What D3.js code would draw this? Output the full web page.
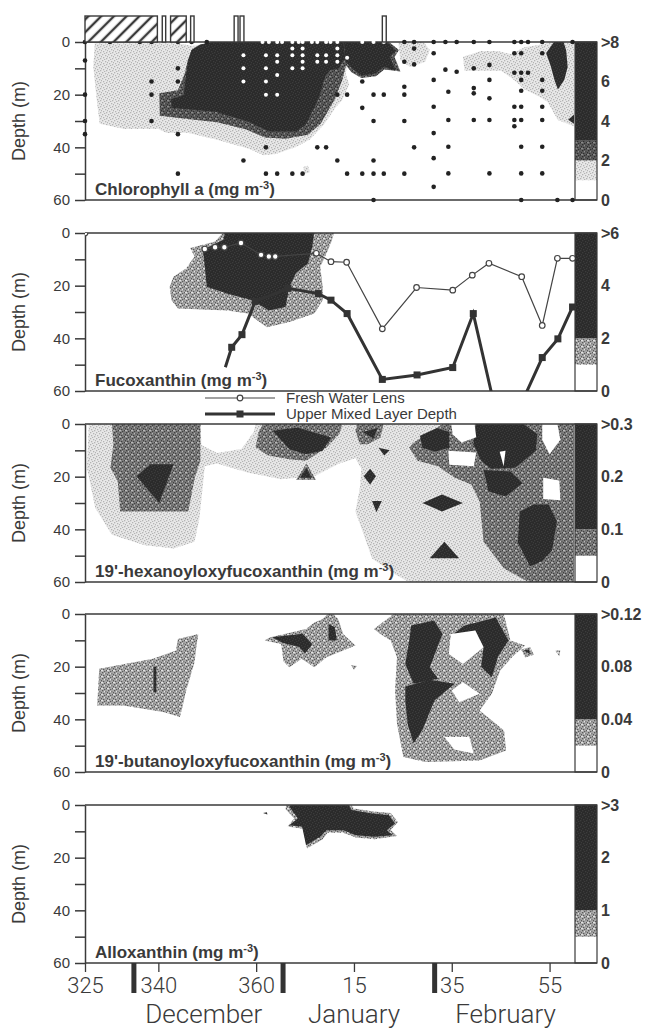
<!DOCTYPE html>
<html>
<head>
<meta charset="utf-8">
<script src="https://cdn.jsdelivr.net/npm/d3@7"></script>
<style>
  body { margin: 0; background: #fff; }
  svg { display: block; }
</style>
</head>
<body>
<svg id="chart"></svg>
<script>
// ---------- data (day of year, depth in m) ----------
const xTickDays = [325, 340, 360, 380, 400, 420];
const monthEdges = [335, 365.5, 396.5];
const monthNames = ['December', 'January', 'February'];
const monthMidDays = [349.3, 380, 411];
const depthTicks = [0, 10, 20, 30, 40, 50, 60];

// boxes above the chlorophyll panel: [start, end, hatched]
const coverBars = [
  [325, 339.8, true], [340.8, 341.5, false], [342.5, 345.7, true], [346.6, 347.3, false],
  [355.5, 356.3, false], [356.7, 357.5, false], [385.8, 386.6, false]
];

// chlorophyll sampling stations: [day, depths]
const chlStations = [
  [325, [0, 7, 20, 30, 35]], [330.1, [0]], [336.2, [0]], [338.6, [0, 15, 20, 30]],
  [344, [0, 10, 15, 35, 50]], [346.8, [0]], [349.9, [0]], [357.4, [5, 10, 15, 45]],
  [361.3, [0]], [362, [5, 10, 15, 20, 40, 50]], [362.6, [0]], [364.3, [0, 5, 7.5, 12.5, 20, 50]],
  [365.3, [0]], [367.4, [0, 2.5, 5, 10, 50]], [368.7, [0]], [369.5, [0, 2.5, 5, 7.5, 10, 50]],
  [371.4, [0]], [372.5, [0, 5, 7.5, 40]], [374.3, [0, 5, 7.5, 40]], [375.2, [0]],
  [376.6, [0, 2.5, 5, 7.5, 20, 45]], [378.6, [6, 20, 50]], [381.7, [0, 15, 25, 50]],
  [384, [0, 20, 30, 45, 50, 60]], [386.1, [0, 20, 50]], [390.3, [0, 7.5, 17, 20, 30, 50]],
  [392.3, [0, 2.5, 8.5, 40]], [396.3, [0, 4.3, 14.4, 24.6, 34.6, 44.1, 55]], [398.7, [0, 10.5]],
  [399.3, [18.9, 29.6, 39.8, 49.9]], [401, [0, 11.3]], [404.5, [0, 10, 17.5, 19.5, 29.6]],
  [407.7, [0, 8.7, 14.4, 21.4, 29.6, 49.9]], [412.8, [0, 4.3, 11.7, 24.6, 29.6, 32]],
  [414.2, [0, 4.3, 11.7, 14.4, 18.5, 24.6, 29.6, 39.8, 49.9, 60]], [415.6, [0, 11.7]],
  [418.5, [0, 4.3, 14.4, 18.5, 24.6, 29.6, 39.8, 49.9]], [421.6, [60]], [424.7, [0, 60]]
];

// contour regions, one list per shading level
const chlLight = [
  [[327,0.5],[344,0.5],[347,1.5],[353.5,-1],[378,-1],[379,5],[378.3,12],[379,16],[377.6,22],[376.2,25],[374,31],[371,37],[368,40],[364,42.5],[361.5,43],[358.5,40.5],[352.4,37.3],[346,34.5],[341.7,34.6],[340,33],[333,33],[328,31],[327.4,22],[326.7,9.5]],
  [[389,-1],[393.8,-1],[395.5,3],[394.6,7.5],[391.5,9.5],[389.5,7]],
  [[402.3,5.6],[406,3.4],[409.4,3.4],[412.1,4.6],[414.9,2],[419,0.8],[421,-1],[425,-1],[425,32],[421.7,29.6],[419.6,22.8],[417.6,20.4],[414.9,18],[412.8,14.5],[410.1,10.9],[406,10.9],[402.6,10.9]],
  [[369.6,47.5],[370.6,47],[371,49.5],[370,50]]
];
const chlMid = [
  [[340.2,19.5],[344,18.3],[345.4,12],[346,7],[346.8,3],[348.5,1],[353.5,-1],[378,-1],[378.6,7],[377.6,14.5],[376,22],[373.2,31],[370.6,35.2],[366,36.7],[361.8,36.3],[358,33.2],[352,30.5],[346,29.2],[340.3,28]],
  [[377.5,-1],[386.5,-1],[389.2,3],[388.3,5.7],[389.5,11.2],[386.2,10.4],[384.5,13],[381.5,13.7],[379.5,11.5],[378,8]]
];
const chlBlack = [
  [[342.6,21.7],[345.2,20],[345.7,12],[346.1,7.3],[346.8,3],[348.5,1],[353.5,-1],[377.8,-1],[378.2,6],[376.9,10.1],[375.2,10.7],[374.2,12.7],[372.8,21.5],[370.1,31.6],[368.1,34],[362.6,34],[358.5,30.4],[351.7,26.5],[346,25.5],[342.7,25]],
  [[377.9,-1],[386.1,-1],[388.5,3.2],[387.4,5.7],[388.5,10.7],[386.1,9.5],[384.4,12],[381.7,12.7],[380,10.7],[378.3,7.6]],
  [[419.3,4.2],[421.3,-1],[422.7,-1],[423.4,3.2],[423.7,9.5],[423,14.4],[421.7,18],[421,14.4],[420.3,9.5]],
  [[425,27.5],[423.8,29.5],[425,31]]
];

const fucoMid = [
  [[353.7,-1],[351.6,3.2],[349.1,4.5],[346.5,5.7],[347.4,8.9],[345.7,13.4],[343.1,16.6],[342.3,20.4],[342.7,25.5],[344,28.7],[354.1,29.4],[358.3,30.6],[362.2,35.8],[366.8,33.8],[371.9,30.6],[373.6,25.5],[373.6,20.4],[373.1,12.8],[374.4,7.7],[375.3,3.8],[376.1,-1]]
];
const fucoBlack = [
  [[353.7,-1],[353.3,2.6],[349.1,6.4],[349.5,12.8],[349.9,20.4],[354,23],[359.2,25.5],[362.6,29.4],[366,28.1],[366.8,20.4],[368.1,15.3],[370.6,11.5],[371.5,5.1],[371.9,-1]]
];
// fresh water lens and upper mixed layer depth (null = no value)
const fwlDays   = [325, 337, 349.5, 351.6, 353.5, 356.9, 361, 362.6, 363.9, 372.3, 375.3, 378.5, 385.8, 392.8, 400.2, 404.2, 407.6, 414.3, 418.5, 421.6, 424.7];
const fwlDepths = [0, null, 6.1, 5.4, 5.4, 3.8, 8.3, 8.9, 8.9, 7.7, 10.9, 11.1, 36.4, 20.7, 21.7, 16, 11.5, 16.6, 35.1, 9.6, 9.6];
const umlDays   = [353.7, 355, 357.1, 359.8, 366.5, 372.7, 375.3, 378.6, 385.8, 392.9, 400.2, 404.4, 410.5, 418.5, 421.7, 424.7];
const umlDepths = [51, 43.4, 38.6, 26, 21, 23, 25.5, 30.6, 55.6, 53.9, 51.1, 30.6, 80, 47.3, 40.2, 28.1];

const hexLight = [
  [[325.8,-1],[348.6,-1],[348.8,8],[352,11],[357,9.5],[359.5,3],[360,-1],[425,-1],[425,61],[392.2,61],[388.8,57.5],[383.7,51.1],[382,42.1],[380.3,33.2],[381.2,24.3],[381.5,17],[380.3,13],[377,15],[371.9,19.8],[365.1,21],[358.4,18.5],[352,15],[349.5,16],[348.4,35.8],[347.4,44.7],[343.1,47.3],[337.2,46],[330.5,42.1],[327.1,31.9],[325.4,16.6]]
];
const hexMid = [
  [[330.5,-1],[348.6,-1],[348.6,14],[347.5,20],[346.1,33.2],[332.2,33.2],[331.7,21.7],[330.2,16.6],[330.8,8]],
  [[361.7,-1],[377.8,-1],[377,3.8],[374.4,8.9],[370.2,14],[366.8,13.4],[362.5,12],[359.9,8.9],[360.5,3]],
  [[368.2,21.2],[370.3,15],[372.2,21.2]],
  [[380.3,2.6],[380.8,-1],[386.2,-1],[385.4,5.1],[382.8,7.7],[381.2,7.7]],
  [[391.3,8.9],[392.2,7],[395.5,3.2],[399,-1],[425,-1],[425,61],[416.7,61],[410.7,54.9],[406.5,44.7],[405.7,29.4],[404,23],[400.6,20.4],[397.2,16],[393,14]]
];
const hexBlack = [
  [[335.5,19.8],[338.4,15.3],[343.1,15.3],[340.2,30]],
  [[363.4,2.6],[368.5,1.3],[375.3,5.1],[373.6,10.2],[370.2,11.5],[366.8,9.6]],
  [[369,20.4],[370.3,16.5],[371.3,20.4]],
  [[381.8,3],[384.8,1.5],[384,5.5]],
  [[385,9],[387.3,10],[386.2,12]],
  [[382,19.8],[383.3,17],[384.5,19.8],[383.3,23]],
  [[383.7,29.2],[385.7,29.2],[384.6,33.5]],
  [[394,30],[398,26.8],[402.3,30],[398,33.2]],
  [[395.5,51],[398.5,44.7],[401.5,51]],
  [[393.5,4.5],[397,1.5],[399.5,3],[399.5,9],[396.5,10.5],[394,9]],
  [[404.4,7.7],[405,-1],[413.9,-1],[417.5,3.8],[417.2,10.2],[413,16.6],[408,17],[406,14]],
  [[406.5,17.5],[412,18],[414.5,22.5],[411,27.5],[407.5,25.5]],
  [[413.9,33.2],[416.7,30.6],[419.8,30.6],[421.5,37],[420.5,48],[418.5,52],[416,54],[413.5,45]]
];
const hexHoles = [
  [[399.8,-1],[404.6,-1],[405,5],[402,7],[400.2,4]],
  [[399.3,10.2],[405,10.8],[404.5,16],[399.5,15.5]],
  [[418.5,-1],[421.5,-1],[422.2,6],[420,11.5],[418.5,6]],
  [[418.7,20.4],[422,21.5],[422.2,29],[418.7,28.5]],
  [[409.8,10.5],[411,10.2],[410.6,16]]
];

const butMid = [
  [[327.5,34.7],[327.9,20.8],[338.9,17],[343.6,13.9],[344,9.5],[348.2,7.6],[347.8,12],[347.4,18.3],[345.7,29],[345,34.7],[344.4,39.1],[341,37.2],[332.8,34.7]],
  [[362.9,8.8],[370.2,5.7],[371.9,3.2],[373.5,2],[375.3,-1],[376.8,2],[377.8,7.6],[380.3,12],[377.8,13.9],[374.4,16.4],[371.9,20.2],[369.3,17],[366.8,20.2],[365.6,18],[365.1,11.4],[361.7,10.1]],
  [[379.4,19.4],[380.6,19.7],[380,21.2]],
  [[384.1,5.7],[388.8,-1],[410.5,-1],[412,10.1],[415,12],[412.5,16],[409.9,21.5],[408.2,30.3],[405.7,36.6],[410.7,44.2],[411.1,51.8],[405.7,55.6],[394.7,56.2],[390.1,54.3],[388.8,41.7],[388.4,29],[388.8,16.4],[387.5,10.1],[385.4,7.6]],
  [[414.2,13.5],[416,12.5],[416.8,15.5],[415,16.5]],
  [[421.2,14],[422.2,13.8],[422,16]]
];
const butBlack = [
  [[339,20],[339.6,20],[339.6,29.7],[339,29.7]],
  [[363.2,8.8],[369.5,7.5],[371.5,11.5],[370,15],[368.8,12.5],[365.5,11]],
  [[374.8,3.8],[376.1,5],[376.5,10.1],[374.8,10.1]],
  [[391.7,4.4],[396.4,2.5],[398.1,7.6],[395.5,20.2],[397.2,24.6],[392.2,26.5],[390.5,19],[391.3,10.1]],
  [[390.5,27.5],[395.5,25],[400.6,26.5],[396.5,32.8],[394,44],[392.2,49.2],[391,42],[390.5,33]],
  [[399.5,9],[402.5,4.5],[409,1.3],[411.6,10.1],[409.5,16],[408.2,24],[406,20],[406.5,12.6],[404.8,6.3]],
  [[414.7,13.8],[415.8,13.5],[416,15.3]]
];
const butHoles = [
  [[399.8,7.6],[404.8,6.3],[406.5,12.6],[402.3,19],[399.4,15.2]],
  [[402.3,25.9],[405.7,30.3],[401.5,33.5],[400,29]],
  [[398.5,46.7],[403.6,46.7],[404.5,53],[400.5,51.5]]
];

const alloLight = [
  [[366.3,-1],[379,-1],[380,1.3],[384,2.5],[387.5,3],[389,6.5],[387.5,9.5],[388.8,11.8],[384.2,13],[380.4,12.3],[377.8,10.5],[374.6,10.5],[373.6,13],[370.4,16.5],[369.6,9],[366.4,8.2],[367.8,5.1],[366,1.5]]
];
const alloBlack = [
  [[366.8,0.6],[367.5,-1],[378.7,-1],[379.5,1.9],[383.7,3.2],[387.1,3.8],[388.4,7],[386.7,9.6],[388,11.5],[384.2,12.1],[380.4,11.5],[377.8,9.6],[374.4,9.6],[373.1,12.1],[370.2,15.3],[369.4,8.3],[366.8,7.7],[368.5,5.1]],
  [[361.4,3],[362.2,2.8],[362.3,3.6]]
];

// colour scales beside each panel
const pigments = ['Chlorophyll a', 'Fucoxanthin', "19'-hexanoyloxyfucoxanthin", "19'-butanoyloxyfucoxanthin", 'Alloxanthin'];
const cbMax = [8, 6, 0.3, 0.12, 3];
const cbBreaks = [[1, 2, 3], [1, 2], [0.05, 0.1], [0.02, 0.04], [0.5, 1]];
const cbLabels = [['>8', '6', '4', '2', '0'], ['>6', '4', '2', '0'], ['>0.3', '0.2', '0.1', '0'], ['>0.12', '0.08', '0.04', '0'], ['>3', '2', '1', '0']];

// ---------- layout ----------
const width = 649, height = 1032;
const panelTops = [42, 233, 424, 614, 805];
const panelH = 158;
const plotLeft = 85, plotRight = 575, barRight = 597;
const ink = '#3a3a3a';

const svg = d3.select('#chart').attr('width', width).attr('height', height);
const defs = svg.append('defs');

const x = d3.scaleLinear().domain([325, 425.2]).range([plotLeft, plotRight]);

// speckled fills imitating the printed screens
const grainDark = [[0, 0], [3, 1], [1, 3], [4, 4], [5, 2], [2, 5]];
const grainLight = [[2, 1], [5, 4], [0, 4]];
function speckle(id, base, dark, light) {
  const p = defs.append('pattern').attr('id', id)
    .attr('patternUnits', 'userSpaceOnUse').attr('width', 6).attr('height', 6);
  p.append('rect').attr('width', 6).attr('height', 6).attr('fill', base);
  grainDark.forEach(([gx, gy]) => p.append('rect').attr('x', gx).attr('y', gy)
    .attr('width', 1.3).attr('height', 1.3).attr('fill', dark));
  if (light) grainLight.forEach(([gx, gy]) => p.append('rect').attr('x', gx).attr('y', gy)
    .attr('width', 1.3).attr('height', 1.3).attr('fill', light));
}
speckle('light', '#e8e8e8', '#b4b4b4');
speckle('dark', '#5a5a5a', '#2e2e2e', '#8a8a8a');
speckle('mid', '#7c7c7c', '#404040', '#b8b8b8');
speckle('stip', '#a8a8a8', '#5a5a5a', '#e2e2e2');
speckle('black', '#2a2a2a', '#3c3c3c');

const hatch = defs.append('pattern').attr('id', 'hatch')
  .attr('patternUnits', 'userSpaceOnUse').attr('width', 9).attr('height', 9)
  .attr('patternTransform', 'rotate(45)');
hatch.append('rect').attr('width', 9).attr('height', 9).attr('fill', '#fff');
hatch.append('line').attr('x1', 2).attr('x2', 2).attr('y1', 0).attr('y2', 9)
  .attr('stroke', ink).attr('stroke-width', 2.4);

const fillOf = id => id === 'white' ? '#fff' : `url(#${id})`;

const panelLayers = [
  { layers: [[chlLight, 'light'], [chlMid, 'dark'], [chlBlack, 'black']], holes: [], cb: ['white', 'light', 'dark', 'black'] },
  { layers: [[fucoMid, 'stip'], [fucoBlack, 'black']], holes: [], cb: ['white', 'stip', 'black'] },
  { layers: [[hexLight, 'light'], [hexMid, 'mid'], [hexBlack, 'black']], holes: hexHoles, cb: ['white', 'mid', 'black'] },
  { layers: [[butMid, 'stip'], [butBlack, 'black']], holes: butHoles, cb: ['white', 'stip', 'black'] },
  { layers: [[alloLight, 'stip'], [alloBlack, 'black']], holes: [], cb: ['white', 'stip', 'black'] }
];

const yScales = [];

panelTops.forEach((top, i) => {
  const bottom = top + panelH;
  const y = d3.scaleLinear().domain([0, 60]).range([top, bottom]);
  yScales.push(y);
  const g = svg.append('g');

  defs.append('clipPath').attr('id', `clip${i}`)
    .append('rect').attr('x', plotLeft).attr('y', top)
    .attr('width', plotRight - plotLeft).attr('height', panelH);

  const body = g.append('g').attr('clip-path', `url(#clip${i})`);
  const poly = d3.line().x(d => x(d[0])).y(d => y(d[1])).curve(d3.curveLinearClosed);

  panelLayers[i].layers.forEach(([polys, f]) => {
    body.selectAll(null).data(polys).join('path')
      .attr('d', poly).attr('fill', fillOf(f));
  });
  body.selectAll(null).data(panelLayers[i].holes).join('path')
    .attr('d', poly).attr('fill', '#fff');

  // colour scale
  const cy = d3.scaleLinear().domain([0, cbMax[i]]).range([bottom, top]);
  const edges = [0, ...cbBreaks[i], cbMax[i]];
  g.selectAll(null).data(d3.pairs(edges)).join('rect')
    .attr('x', plotRight).attr('width', barRight - plotRight)
    .attr('y', d => cy(d[1])).attr('height', d => cy(d[0]) - cy(d[1]))
    .attr('fill', (d, k) => fillOf(panelLayers[i].cb[k]));
  g.append('rect').attr('x', plotRight).attr('y', top)
    .attr('width', barRight - plotRight).attr('height', panelH)
    .attr('fill', 'none').attr('stroke', ink).attr('stroke-width', 1.2);

  const labs = cbLabels[i];
  g.selectAll(null).data(labs).join('text')
    .attr('x', 601)
    .attr('y', (d, k) => cy(cbMax[i] * (labs.length - 1 - k) / (labs.length - 1)))
    .attr('dy', '0.36em')
    .style('font', 'bold 16px "Liberation Sans", Arial, sans-serif')
    .style('fill', ink)
    .text(d => d);

  // frame lines
  [top, bottom].forEach(yy => g.append('line')
    .attr('x1', plotLeft).attr('x2', barRight).attr('y1', yy).attr('y2', yy)
    .attr('stroke', ink).attr('stroke-width', 1.5));

  // depth axis
  const ax = g.append('g').attr('transform', `translate(${plotLeft},0)`)
    .call(d3.axisLeft(y).tickValues(depthTicks).tickSize(10).tickSizeOuter(0).tickPadding(5)
      .tickFormat(d => d % 20 === 0 ? d : ''));
  ax.select('.domain').attr('stroke', ink).attr('stroke-width', 1.5);
  ax.selectAll('.tick line').attr('stroke', ink).attr('stroke-width', 1.5);
  ax.selectAll('.tick text')
    .style('font', '15px "Liberation Sans", Arial, sans-serif').style('fill', ink);

  g.append('text')
    .attr('transform', `translate(25,${(top + bottom) / 2}) rotate(-90)`)
    .attr('text-anchor', 'middle')
    .style('font', '18px "Liberation Sans", Arial, sans-serif').style('fill', ink)
    .text('Depth (m)');

  // pigment name
  const t = g.append('text').attr('x', 95).attr('y', bottom - 5)
    .style('font', 'bold 17px "Liberation Sans", Arial, sans-serif').style('fill', ink);
  t.append('tspan').text(`${pigments[i]} (mg m`);
  t.append('tspan').attr('dy', -6).style('font-size', '11px').text('-3');
  t.append('tspan').attr('dy', 6).text(')');
});

// ---------- chlorophyll sample points ----------
{
  const y = yScales[0];
  const pts = chlStations.flatMap(([day, depths]) => depths.map(dep => [day, dep]));
  const inBlack = p => chlBlack.some(pg => d3.polygonContains(pg, p));
  svg.append('g').selectAll('circle').data(pts).join('circle')
    .attr('cx', d => x(d[0])).attr('cy', d => y(d[1]))
    .attr('r', d => inBlack(d) ? 2 : 2.3)
    .attr('fill', d => inBlack(d) ? '#fff' : '#222');

  // cover bars above the panel
  svg.append('g').selectAll('rect').data(coverBars).join('rect')
    .attr('x', d => x(d[0])).attr('width', d => x(d[1]) - x(d[0]))
    .attr('y', 16).attr('height', 26)
    .attr('fill', d => d[2] ? 'url(#hatch)' : '#fff')
    .attr('stroke', ink).attr('stroke-width', 1.4);
}

// ---------- fucoxanthin panel lines ----------
{
  const y = yScales[1];
  const g = svg.append('g').attr('clip-path', 'url(#clip1)');
  const fwl = fwlDays.map((d, k) => [d, fwlDepths[k]]);
  const uml = umlDays.map((d, k) => [d, umlDepths[k]]);
  const ln = d3.line().defined(d => d[1] !== null).x(d => x(d[0])).y(d => y(d[1]));

  g.append('path').attr('d', ln(uml)).attr('fill', 'none')
    .attr('stroke', '#333').attr('stroke-width', 3);
  g.selectAll('rect.uml').data(uml.slice(1)).join('rect').attr('class', 'uml')
    .attr('x', d => x(d[0]) - 3.5).attr('y', d => y(d[1]) - 3.5)
    .attr('width', 7).attr('height', 7).attr('fill', '#333');

  g.append('path').attr('d', ln(fwl)).attr('fill', 'none')
    .attr('stroke', '#444').attr('stroke-width', 1.2);
  g.selectAll('circle.fwl').data(fwl.filter(d => d[1] !== null)).join('circle').attr('class', 'fwl')
    .attr('cx', d => x(d[0])).attr('cy', d => y(d[1])).attr('r', 2.8)
    .attr('fill', '#fff').attr('stroke', '#444').attr('stroke-width', 1.2);

  // legend
  const lg = svg.append('g');
  lg.append('line').attr('x1', 205).attr('x2', 275).attr('y1', 398).attr('y2', 398)
    .attr('stroke', '#444').attr('stroke-width', 1.2);
  lg.append('circle').attr('cx', 240).attr('cy', 398).attr('r', 2.8)
    .attr('fill', '#fff').attr('stroke', '#444').attr('stroke-width', 1.2);
  lg.append('line').attr('x1', 205).attr('x2', 275).attr('y1', 414).attr('y2', 414)
    .attr('stroke', '#333').attr('stroke-width', 3);
  lg.append('rect').attr('x', 236.5).attr('y', 410.5).attr('width', 7).attr('height', 7).attr('fill', '#333');
  lg.selectAll('text').data(['Fresh Water Lens', 'Upper Mixed Layer Depth']).join('text')
    .attr('x', 286).attr('y', (d, k) => 403 + k * 16)
    .style('font', '15px "Liberation Sans", Arial, sans-serif').style('fill', ink)
    .text(d => d);
}

// ---------- time axis ----------
{
  const bottom = panelTops[4] + panelH;
  const ax = svg.append('g').attr('transform', `translate(0,${bottom})`)
    .call(d3.axisBottom(x).tickValues(xTickDays).tickSize(9).tickSizeOuter(0).tickPadding(5)
      .tickFormat(d => d > 365 ? d - 365 : d));
  ax.select('.domain').remove();
  ax.selectAll('.tick line').attr('stroke', ink).attr('stroke-width', 1.3);
  ax.selectAll('.tick text')
    .style('font', '300 22px Roboto, "Liberation Sans", sans-serif').style('fill', ink);

  svg.append('g').selectAll('rect').data(monthEdges).join('rect')
    .attr('x', d => x(d) - 2.5).attr('width', 5)
    .attr('y', bottom).attr('height', 30).attr('fill', '#333');

  svg.append('g').selectAll('text').data(monthNames).join('text')
    .attr('x', (d, k) => x(monthMidDays[k])).attr('y', 1023)
    .attr('text-anchor', 'middle')
    .style('font', '300 26px Roboto, "Liberation Sans", sans-serif').style('fill', ink)
    .text(d => d);
}
</script>
</body>
</html>
